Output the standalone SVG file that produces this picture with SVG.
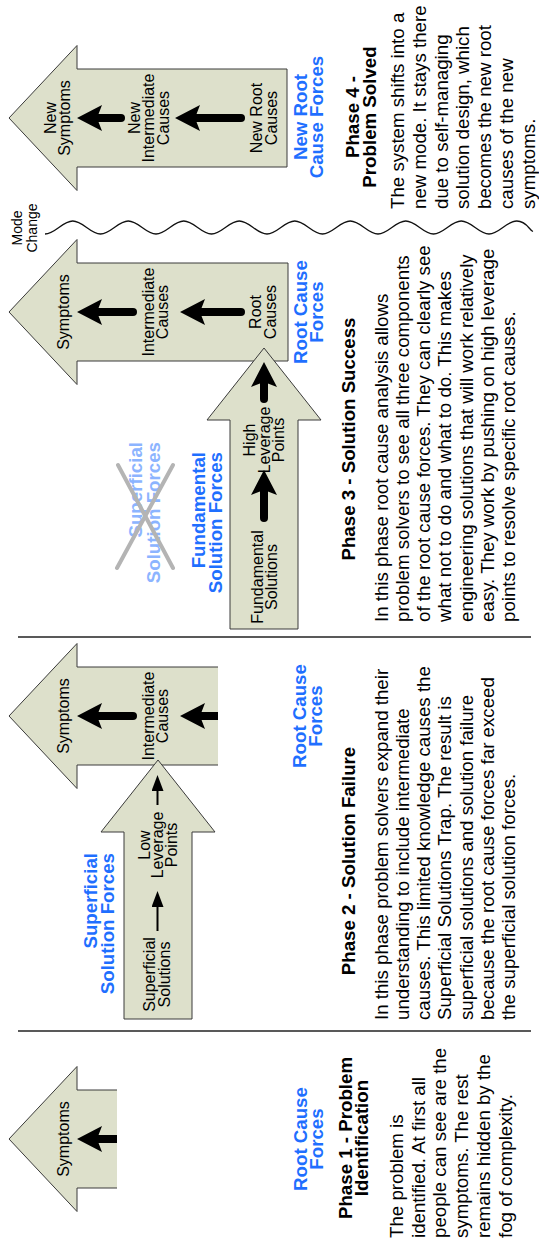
<svg xmlns="http://www.w3.org/2000/svg" width="539" height="1245" viewBox="0 0 539 1245">
  <defs>
    <style>
      text { font-family: "Liberation Sans", Arial, Helvetica, sans-serif; fill: #000; }
      .lbl { font-size: 16px; text-anchor: middle; }
      .body { font-size: 18.7px; }
      .ttl { font-size: 18.7px; font-weight: bold; text-anchor: middle; }
      .force { font-size: 18.7px; font-weight: bold; fill: #1f6fff; text-anchor: middle; }
      .force.end { text-anchor: end; }
      .force.faded { fill: #8cb4ff; }
      .mode { font-size: 14px; text-anchor: middle; }
      .block { fill: #dde0cb; stroke: #3a3a3a; stroke-width: 1; }
      .heavy { stroke: #000; stroke-width: 8; fill: none; marker-end: url(#heavyHead); }
      .heavy.rnd { stroke-linecap: round; }
      .light { stroke: #000; stroke-width: 2; fill: none; marker-end: url(#lightHead); }
      .rule { stroke: #222; stroke-width: 1.5; }
      .wave { fill: none; stroke: #111; stroke-width: 1.3; }
      .strike { stroke: #b4b4b4; stroke-width: 4; stroke-linecap: round; }
    </style>
    <marker id="heavyHead" markerUnits="userSpaceOnUse" viewBox="0 0 25 26" markerWidth="25" markerHeight="26" refX="10" refY="13" orient="auto">
      <path d="M0,0 L25,13 L0,26 L5,13 Z" fill="#000"/>
    </marker>
    <marker id="lightHead" markerUnits="userSpaceOnUse" viewBox="0 0 16 12" markerWidth="16" markerHeight="12" refX="10" refY="6" orient="auto">
      <path d="M0,0 L16,6 L0,12 Z" fill="#000"/>
    </marker>
  </defs>

  <!-- laid out as a landscape sheet (1245 x 539), turned to read bottom-to-top -->
  <g transform="translate(0,1245) rotate(-90)">

    <!-- phase dividers -->
    <g id="dividers">
      <line class="rule" x1="214" y1="18" x2="214" y2="531"/>
      <line class="rule" x1="608" y1="18" x2="608" y2="531"/>
      <path class="wave" d="M1011,45 C1011,55.1 1024,62.65 1024,72.75 S1011,90.4 1011,100.5 S1024,118.15 1024,128.25 S1011,145.9 1011,156 S1024,173.65 1024,183.75 S1011,201.4 1011,211.5 S1024,229.15 1024,239.25 S1011,256.9 1011,267 S1024,284.65 1024,294.75 S1011,312.4 1011,322.5 S1024,340.15 1024,350.25 S1011,367.9 1011,378 S1024,395.65 1024,405.75 S1011,423.4 1011,433.5 S1024,451.15 1024,461.25 S1011,478.9 1011,489 S1024,506.65 1024,516.75 S1015,529 1013.5,533"/>
      <text class="mode"><tspan x="1017" y="22">Mode</tspan><tspan x="1017" y="36.5">Change</tspan></text>
    </g>

    <!-- Phase 1 - Problem Identification -->
    <g id="phase1">
      <path class="block" d="M155,117 V77 H178.5 L106,9 L33.5,77 H57 V117"/>
      <text class="lbl" x="106" y="68.5">Symptoms</text>
      <text class="force"><tspan x="106" y="307">Root Cause</tspan><tspan x="106" y="323">Forces</tspan></text>
      <text class="ttl"><tspan x="107" y="352">Phase 1 - Problem</tspan><tspan x="107" y="368">Identification</tspan></text>
      <text class="body">
        <tspan x="7" y="403">The problem is</tspan>
        <tspan x="7" y="424.7">identified. At first all</tspan>
        <tspan x="7" y="446.4">people can see are the</tspan>
        <tspan x="7" y="468.1">symptoms. The rest</tspan>
        <tspan x="7" y="489.8">remains hidden by the</tspan>
        <tspan x="7" y="511.5">fog of complexity.</tspan>
      </text>
    </g>

    <!-- Phase 2 - Solution Failure -->
    <g id="phase2-causes">
      <path class="block" d="M578,218 V77 H601.5 L529,9 L456.5,77 H480 V218"/>
      <text class="lbl" x="529" y="68.5">Symptoms</text>
      <text class="lbl"><tspan x="529" y="154">Intermediate</tspan><tspan x="529" y="168">Causes</tspan></text>
      <text class="force"><tspan x="529" y="306">Root Cause</tspan><tspan x="529" y="322">Forces</tspan></text>
    </g>
    <g id="phase2-solutions">
      <path class="block" d="M226,124 H413 V101 L485,158 L413,215 V192 H226 Z"/>
      <text class="lbl"><tspan x="270.5" y="155">Superficial</tspan><tspan x="270.5" y="169.5">Solutions</tspan></text>
      <text class="lbl"><tspan x="400" y="149.5">Low</tspan><tspan x="400" y="163.25">Leverage</tspan><tspan x="400" y="177">Points</tspan></text>
      <text class="force end"><tspan x="392" y="97">Superficial</tspan><tspan x="392" y="114">Solution Forces</tspan></text>
    </g>
    <g id="phase2-text">
      <text class="ttl" x="384" y="355">Phase 2 - Solution Failure</text>
      <text class="body">
        <tspan x="225" y="387.5">In this phase problem solvers expand their</tspan>
        <tspan x="225" y="408.75">understanding to include intermediate</tspan>
        <tspan x="225" y="430">causes. This limited knowledge causes the</tspan>
        <tspan x="225" y="451.25">Superficial Solutions Trap. The result is</tspan>
        <tspan x="225" y="472.5">superficial solutions and solution failure</tspan>
        <tspan x="225" y="493.75">because the root cause forces far exceed</tspan>
        <tspan x="225" y="515">the superficial solution forces.</tspan>
      </text>
    </g>

    <!-- Phase 3 - Solution Success -->
    <g id="phase3-causes">
      <path class="block" d="M982,288 V77 H1005.5 L933,9 L860.5,77 H884 V288 Z"/>
      <text class="lbl" x="933" y="68.5">Symptoms</text>
      <text class="lbl"><tspan x="933" y="154">Intermediate</tspan><tspan x="933" y="168">Causes</tspan></text>
      <text class="lbl"><tspan x="933" y="261">Root</tspan><tspan x="933" y="276">Causes</tspan></text>
      <text class="force"><tspan x="933" y="307">Root Cause</tspan><tspan x="933" y="323">Forces</tspan></text>
    </g>
    <g id="phase3-solutions">
      <path class="block" d="M616,230 H825 V207 L897,264 L825,321 V298 H616 Z"/>
      <text class="lbl"><tspan x="668" y="262.5">Fundamental</tspan><tspan x="668" y="277">Solutions</tspan></text>
      <text class="lbl"><tspan x="805" y="255">High</tspan><tspan x="805" y="269.5">Leverage</tspan><tspan x="805" y="284">Points</tspan></text>
      <text class="force end faded"><tspan x="803" y="142">Superficial</tspan><tspan x="803" y="160">Solution Forces</tspan></text>
      <line class="strike" x1="780" y1="118" x2="677" y2="173"/>
      <line class="strike" x1="780" y1="173" x2="677" y2="117"/>
      <text class="force end"><tspan x="793" y="205">Fundamental</tspan><tspan x="793" y="222">Solution Forces</tspan></text>
    </g>
    <g id="phase3-text">
      <text class="ttl" x="806" y="355">Phase 3 - Solution Success</text>
      <text class="body">
        <tspan x="623" y="387.5">In this phase root cause analysis allows</tspan>
        <tspan x="623" y="408.75">problem solvers to see all three components</tspan>
        <tspan x="623" y="430">of the root cause forces. They can clearly see</tspan>
        <tspan x="623" y="451.25">what not to do and what to do. This makes</tspan>
        <tspan x="623" y="472.5">engineering solutions that will work relatively</tspan>
        <tspan x="623" y="493.75">easy. They work by pushing on high leverage</tspan>
        <tspan x="623" y="515">points to resolve specific root causes.</tspan>
      </text>
    </g>

    <!-- Phase 4 - Problem Solved -->
    <g id="phase4">
      <path class="block" d="M1176,287 V77 H1199.5 L1127,9 L1054.5,77 H1078 V287 Z"/>
      <text class="lbl"><tspan x="1127" y="55.5">New</tspan><tspan x="1127" y="70">Symptoms</tspan></text>
      <text class="lbl"><tspan x="1127" y="139.5">New</tspan><tspan x="1127" y="154">Intermediate</tspan><tspan x="1127" y="168.5">Causes</tspan></text>
      <text class="lbl"><tspan x="1127" y="262">New Root</tspan><tspan x="1127" y="276.5">Causes</tspan></text>
      <text class="force"><tspan x="1128" y="307">New Root</tspan><tspan x="1128" y="323">Cause Forces</tspan></text>
      <text class="ttl"><tspan x="1128" y="359">Phase 4 -</tspan><tspan x="1128" y="376">Problem Solved</tspan></text>
      <text class="body">
        <tspan x="1036" y="404">The system shifts into a</tspan>
        <tspan x="1036" y="425.8">new mode. It stays there</tspan>
        <tspan x="1036" y="447.6">due to self-managing</tspan>
        <tspan x="1036" y="469.4">solution design, which</tspan>
        <tspan x="1036" y="491.2">becomes the new root</tspan>
        <tspan x="1036" y="513">causes of the new</tspan>
        <tspan x="1036" y="534.8">symptoms.</tspan>
      </text>
    </g>

    <!-- cause-and-effect arrows -->
    <g id="connectors">
      <line class="heavy" x1="106" y1="117" x2="106" y2="92"/>
      <line class="heavy rnd" x1="529" y1="133" x2="529" y2="92"/>
      <line class="heavy" x1="529" y1="218" x2="529" y2="195"/>
      <line class="light" x1="314" y1="157.5" x2="348" y2="157.5"/>
      <line class="light" x1="440" y1="157.5" x2="464" y2="157.5"/>
      <line class="heavy rnd" x1="933" y1="133" x2="933" y2="92"/>
      <line class="heavy rnd" x1="933" y1="241" x2="933" y2="195"/>
      <line class="heavy rnd" x1="727" y1="264" x2="760" y2="264"/>
      <line class="heavy rnd" x1="846" y1="264" x2="868" y2="264"/>
      <line class="heavy rnd" x1="1127" y1="121" x2="1127" y2="92"/>
      <line class="heavy rnd" x1="1127" y1="241" x2="1127" y2="190"/>
    </g>
  </g>
</svg>
